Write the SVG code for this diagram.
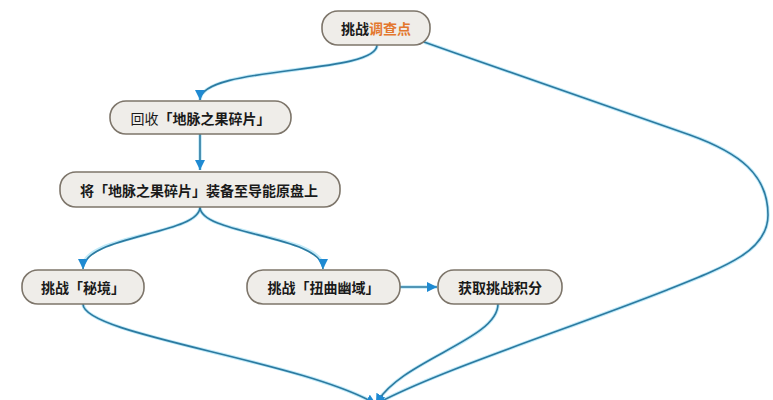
<svg xmlns="http://www.w3.org/2000/svg" width="773" height="400" viewBox="0 0 773 400">
  <defs>
    <marker id="arr" viewBox="0 0 10 10" refX="10" refY="5" markerWidth="10" markerHeight="10" markerUnits="userSpaceOnUse" orient="auto">
      <path d="M0,0 L10,5 L0,10 Z" fill="#1f8ad2"/>
    </marker>
    <style>
      .node rect { fill: #efede9; stroke: #7d756a; stroke-width: 1.6; }
      .node text { font-family: "Noto Sans CJK SC", "Liberation Sans", sans-serif; font-size: 14px; font-weight: bold; fill: #1a1a1a; text-anchor: middle; dominant-baseline: central; }
      .halo { fill: none; stroke: #bfe9f8; stroke-width: 3.5; }
      .edge { fill: none; stroke: #2c7aa0; stroke-width: 1.6; }
      .reg { font-weight: normal; }
      .hl { fill: #e3772e; }
    </style>
  </defs>
  <rect width="773" height="400" fill="#ffffff"/>

  <g id="connectors">
    <g class="halos">
      <path class="halo" d="M377,45 C377,75 200,65 200,100"/>
      <path class="halo" d="M200,133 L200,170"/>
      <path class="halo" d="M200,207 C200,235 83,235 83,267"/>
      <path class="halo" d="M200,207 C200,235 323,235 323,267"/>
      <path class="halo" d="M400,287 L437,287"/>
      <path class="halo" d="M424,42 C520,76 620,110 690,135 C740,153 768,175 768,215 C768,250 730,265 667,290 C560,332 440,370 376,404"/>
      <path class="halo" d="M83,304 C83,335 300,360 376,404"/>
      <path class="halo" d="M498,304 C498,340 400,360 376,404"/>
    </g>
    <path class="edge" d="M377,45 C377,75 200,65 200,100" marker-end="url(#arr)"/>
    <path class="edge" d="M200,133 L200,170" marker-end="url(#arr)"/>
    <path class="edge" d="M200,207 C200,235 83,235 83,269" marker-end="url(#arr)"/>
    <path class="edge" d="M200,207 C200,235 323,235 323,269" marker-end="url(#arr)"/>
    <path class="edge" d="M400,287 L437,287" marker-end="url(#arr)"/>
    <path class="edge" d="M424,42 C520,76 620,110 690,135 C740,153 768,175 768,215 C768,250 730,265 667,290 C560,332 440,370 376,404" marker-end="url(#arr)"/>
    <path class="edge" d="M83,304 C83,335 300,360 376,404" marker-end="url(#arr)"/>
    <path class="edge" d="M498,304 C498,340 400,360 376,404" marker-end="url(#arr)"/>
  </g>

  <g id="n1" class="node">
    <rect x="322" y="11" width="108" height="34" rx="16"/>
    <text x="376" y="28">挑战<tspan class="hl">调查点</tspan></text>
  </g>
  <g id="n2" class="node">
    <rect x="110" y="101" width="181" height="33" rx="16"/>
    <text x="200.5" y="117.5"><tspan class="reg">回收</tspan>「地脉之果碎片」</text>
  </g>
  <g id="n3" class="node">
    <rect x="60" y="172" width="280" height="35" rx="16"/>
    <text x="199" y="189.5">将「地脉之果碎片」装备至导能原盘上</text>
  </g>
  <g id="n4" class="node">
    <rect x="22" y="270" width="122" height="34" rx="16"/>
    <text x="83" y="287">挑战「秘境」</text>
  </g>
  <g id="n5" class="node">
    <rect x="247" y="270" width="153" height="34" rx="16"/>
    <text x="323.5" y="287">挑战「扭曲幽域」</text>
  </g>
  <g id="n6" class="node">
    <rect x="438" y="270" width="124" height="34" rx="16"/>
    <text x="500" y="287">获取挑战积分</text>
  </g>
</svg>
